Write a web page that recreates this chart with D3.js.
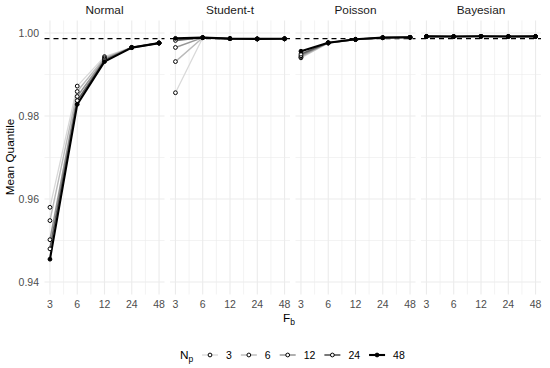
<!DOCTYPE html>
<html>
<head>
<meta charset="utf-8">
<script src="https://cdn.jsdelivr.net/npm/d3@7"></script>
<style>
  body { margin: 0; background: #fff; }
  svg text { font-family: "Liberation Sans", Arial, sans-serif; }
</style>
</head>
<body>
<svg id="chart" width="550" height="368"></svg>
<script>
// facets, x values (F_b) and series (N_p)
var panels = ["Normal", "Student-t", "Poisson", "Bayesian"];
var fbValues = [3, 6, 12, 24, 48];
var npValues = [3, 6, 12, 24, 48];
var yTicks = [0.94, 0.96, 0.98, 1.00];
var refLine = 0.99865;

// mean quantile, one row per N_p (3, 6, 12, 24, 48), columns F_b = 3..48
var normalVals = [
  [0.9580, 0.9872, 0.9943, 0.99655, 0.99760],
  [0.9548, 0.9859, 0.9940, 0.99652, 0.99758],
  [0.9502, 0.9847, 0.9937, 0.99650, 0.99757],
  [0.9480, 0.9837, 0.9934, 0.99648, 0.99756],
  [0.9455, 0.9828, 0.9931, 0.99646, 0.99755]
];
var studentVals = [
  [0.9856, 0.99885, 0.99862, 0.99855, 0.99858],
  [0.9931, 0.99886, 0.99862, 0.99855, 0.99858],
  [0.9965, 0.99887, 0.99863, 0.99856, 0.99859],
  [0.9982, 0.99888, 0.99863, 0.99856, 0.99859],
  [0.9987, 0.99888, 0.99864, 0.99857, 0.99860]
];
var poissonVals = [
  [0.9940, 0.99755, 0.99842, 0.99884, 0.99894],
  [0.9942, 0.99758, 0.99844, 0.99885, 0.99895],
  [0.9945, 0.99761, 0.99845, 0.99886, 0.99895],
  [0.9949, 0.99764, 0.99847, 0.99886, 0.99896],
  [0.9956, 0.99766, 0.99848, 0.99887, 0.99896]
];
var bayesVals = [
  [0.99915, 0.99912, 0.99918, 0.99914, 0.99916],
  [0.99916, 0.99913, 0.99918, 0.99915, 0.99916],
  [0.99917, 0.99913, 0.99919, 0.99915, 0.99917],
  [0.99918, 0.99914, 0.99919, 0.99916, 0.99917],
  [0.99918, 0.99914, 0.99920, 0.99916, 0.99918]
];
var panelData = [normalVals, studentVals, poissonVals, bayesVals];

var svg = d3.select("#chart");

var panelLeft = 44.5, panelW = 120, panelGap = 5.5;
var plotTop = 20.5, plotBottom = 294.5;

var y = d3.scaleLinear().domain([0.937, 1.003]).range([plotBottom, plotTop]);
var x = d3.scaleLog().base(2).domain([3 / Math.pow(2, 0.2), 48 * Math.pow(2, 0.2)]).range([0, panelW]);

var color = d3.scaleOrdinal().domain(npValues).range(["#d9d9d9", "#bababa", "#969696", "#606060", "#000000"]);
var width = d3.scaleOrdinal().domain(npValues).range([1.3, 1.4, 1.5, 1.7, 2.1]);
var fillFor = function(np) { return np === 48 ? "#000" : "#fff"; };

// minor breaks: midpoints in log space
var minorX = d3.range(fbValues.length - 1).map(function(i) { return Math.sqrt(fbValues[i] * fbValues[i + 1]); });
var minorY = [0.95, 0.97, 0.99];

panels.forEach(function(name, p) {
  var g = svg.append("g").attr("transform", "translate(" + (panelLeft + p * (panelW + panelGap)) + ",0)");

  // grid
  g.selectAll(".ymin").data(minorY).enter().append("line")
    .attr("x1", 0).attr("x2", panelW)
    .attr("y1", function(d) { return y(d); }).attr("y2", function(d) { return y(d); })
    .attr("stroke", "#ebebeb").attr("stroke-width", 0.6);
  g.selectAll(".xmin").data(minorX).enter().append("line")
    .attr("y1", plotTop).attr("y2", plotBottom)
    .attr("x1", function(d) { return x(d); }).attr("x2", function(d) { return x(d); })
    .attr("stroke", "#ebebeb").attr("stroke-width", 0.6);
  g.selectAll(".ymaj").data(yTicks).enter().append("line")
    .attr("x1", 0).attr("x2", panelW)
    .attr("y1", function(d) { return y(d); }).attr("y2", function(d) { return y(d); })
    .attr("stroke", "#ebebeb").attr("stroke-width", 1.1);
  g.selectAll(".xmaj").data(fbValues).enter().append("line")
    .attr("y1", plotTop).attr("y2", plotBottom)
    .attr("x1", function(d) { return x(d); }).attr("x2", function(d) { return x(d); })
    .attr("stroke", "#ebebeb").attr("stroke-width", 1.1);

  // reference line
  g.append("line")
    .attr("x1", 0).attr("x2", panelW)
    .attr("y1", y(refLine)).attr("y2", y(refLine))
    .attr("stroke", "#000").attr("stroke-width", 1.2)
    .attr("stroke-dasharray", "5,4");

  // strip label
  g.append("text").attr("x", panelW / 2).attr("y", 14)
    .attr("text-anchor", "middle").attr("font-size", 11.8).attr("fill", "#1a1a1a")
    .text(name);

  // x tick labels
  g.selectAll(".xl").data(fbValues).enter().append("text")
    .attr("x", function(d) { return x(d); }).attr("y", 308)
    .attr("text-anchor", "middle").attr("font-size", 10.5).attr("fill", "#4d4d4d")
    .text(function(d) { return d; });

  var line = d3.line()
    .x(function(d, i) { return x(fbValues[i]); })
    .y(function(d) { return y(d); });

  panelData[p].forEach(function(vals, k) {
    var np = npValues[k];
    g.append("path").datum(vals)
      .attr("d", line).attr("fill", "none")
      .attr("stroke", color(np)).attr("stroke-width", width(np))
      .attr("stroke-linejoin", "round");
  });
  panelData[p].forEach(function(vals, k) {
    var np = npValues[k];
    g.selectAll(".pt" + k).data(vals).enter().append("circle")
      .attr("cx", function(d, i) { return x(fbValues[i]); })
      .attr("cy", function(d) { return y(d); })
      .attr("r", 1.9)
      .attr("fill", fillFor(np)).attr("stroke", "#000").attr("stroke-width", 1);
  });
});

// y axis labels
svg.selectAll(".yl").data(yTicks).enter().append("text")
  .attr("x", 39).attr("y", function(d) { return y(d) + 3.7; })
  .attr("text-anchor", "end").attr("font-size", 10.5).attr("fill", "#4d4d4d")
  .text(function(d) { return d3.format(".2f")(d); });

// axis titles
svg.append("text").attr("transform", "translate(14,157) rotate(-90)")
  .attr("text-anchor", "middle").attr("font-size", 11.8).attr("fill", "#000")
  .text("Mean Quantile");

var fb = svg.append("text").attr("x", 283).attr("y", 322)
  .attr("font-size", 11.8).attr("fill", "#000");
fb.append("tspan").text("F");
fb.append("tspan").attr("font-size", 8.5).attr("dy", 2.5).text("b");

// legend
var lg = svg.append("g");
var lt = lg.append("text").attr("x", 180).attr("y", 359).attr("font-size", 11.8).attr("fill", "#000");
lt.append("tspan").text("N");
lt.append("tspan").attr("font-size", 8.5).attr("dy", 2.5).text("p");

var lx = 202;
npValues.forEach(function(np) {
  lg.append("line").attr("x1", lx).attr("x2", lx + 16).attr("y1", 355).attr("y2", 355)
    .attr("stroke", color(np)).attr("stroke-width", width(np));
  lg.append("circle").attr("cx", lx + 8).attr("cy", 355).attr("r", 1.9)
    .attr("fill", fillFor(np)).attr("stroke", "#000").attr("stroke-width", 1);
  var t = lg.append("text").attr("x", lx + 24).attr("y", 359)
    .attr("font-size", 10.5).attr("fill", "#000").text(np);
  lx = lx + 24 + t.node().getComputedTextLength() + 9;
});
</script>
</body>
</html>
